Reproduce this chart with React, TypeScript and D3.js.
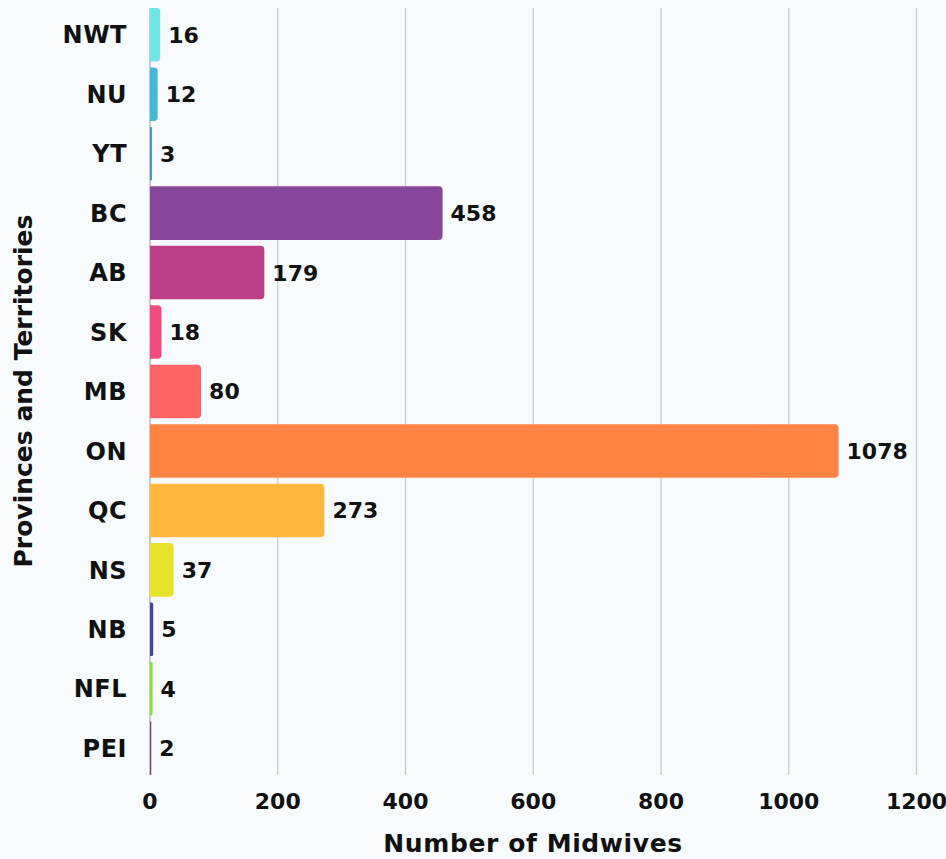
import React from "react";
import * as d3 from "d3";

const categories = ["NWT", "NU", "YT", "BC", "AB", "SK", "MB", "ON", "QC", "NS", "NB", "NFL", "PEI"];
const values = [16, 12, 3, 458, 179, 18, 80, 1078, 273, 37, 5, 4, 2];
const colors = ["#6ce6e6", "#43b9d6", "#3a93c4", "#874699", "#bd3f87", "#f04d7e", "#ff6464", "#ff8444", "#ffb83b", "#e7e22b", "#444499", "#88e030", "#7a3a8a"];
const xTicks = [0, 200, 400, 600, 800, 1000, 1200];

const W = 946;
const H = 859;
const FONT = "'DejaVu Sans', sans-serif";

function barPath(x0: number, y0: number, w: number, h: number, r: number) {
  const rr = Math.max(0, Math.min(r, w / 2, h / 2));
  return `M${x0},${y0}H${x0 + w - rr}Q${x0 + w},${y0} ${x0 + w},${y0 + rr}V${y0 + h - rr}Q${x0 + w},${y0 + h} ${x0 + w - rr},${y0 + h}H${x0}Z`;
}

export default function App() {
  const x = d3.scaleLinear().domain([0, 1200]).range([150, 916.5]);
  const y = d3.scaleBand<string>().domain(categories).range([8, 775]).paddingInner(0.1).paddingOuter(0);
  const bw = y.bandwidth();
  return (
    <svg width={W} height={H} style={{ position: "absolute", left: 0, top: 0, background: "#f7fbfe" }} fontFamily={FONT}>
      <rect x={0} y={0} width={W} height={H} fill="#f7fbfe" />
      {xTicks.map((t) => (
        <line key={t} x1={x(t)} x2={x(t)} y1={8} y2={775} stroke={t === 0 ? "#a8a8a8" : "#c8c8c8"} strokeWidth={1.2} />
      ))}
      {categories.map((c, i) => {
        const y0 = y(c)!;
        const x0 = x(0);
        const w = x(values[i]) - x0;
        return (
          <g key={c}>
            <path d={barPath(x0, y0, w, bw, 4)} fill={colors[i]} />
            <text x={127} y={y0 + bw / 2} dy="0.36em" textAnchor="end" fontSize={24} fontWeight={700} fill="#111" letterSpacing={0.5}>
              {c}
            </text>
            <text x={x0 + w + 8} y={y0 + bw / 2} dy="0.36em" textAnchor="start" fontSize={22} fontWeight={700} fill="#111">
              {values[i]}
            </text>
          </g>
        );
      })}
      {xTicks.map((t) => (
        <text key={"l" + t} x={x(t)} y={809} textAnchor="middle" fontSize={22} fontWeight={700} fill="#111">
          {t}
        </text>
      ))}
      <text x={533} y={852} textAnchor="middle" fontSize={25} fontWeight={700} fill="#111" letterSpacing={0.6}>
        Number of Midwives
      </text>
      <text transform={`translate(32,391) rotate(-90)`} textAnchor="middle" fontSize={25} fontWeight={700} fill="#111">
        Provinces and Territories
      </text>
    </svg>
  );
}
